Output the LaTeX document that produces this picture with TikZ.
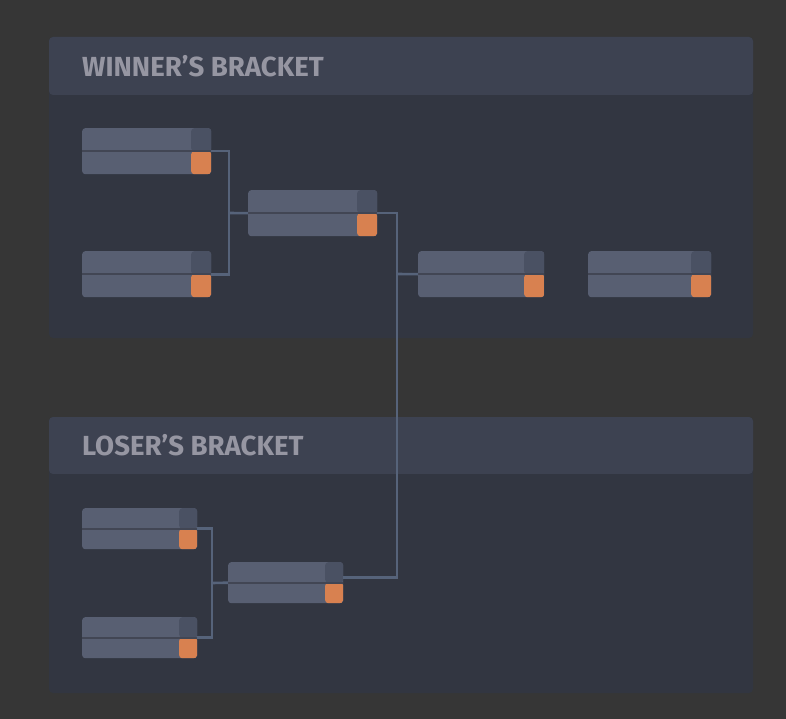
\documentclass[tikz,border=0pt]{standalone}
\usepackage{fontspec}
\setmainfont{Fira Sans}
\usetikzlibrary{positioning,calc}
\definecolor{bgpage}{RGB}{54,54,54}
\definecolor{panelhead}{RGB}{61,66,81}
\definecolor{panelbody}{RGB}{50,54,65}
\definecolor{headtext}{RGB}{150,150,162}
\definecolor{slot}{RGB}{88,95,114}
\definecolor{seeddark}{RGB}{74,81,99}
\definecolor{divider}{RGB}{66,70,84}
\definecolor{seedwin}{RGB}{216,129,80}
\definecolor{wirecol}{RGB}{86,99,122}

\begin{document}
\begin{tikzpicture}[x=1pt, y=-1pt,
  p/.style={fill=panelbody, rounded corners=4pt},
  ph/.style={fill=panelhead, rounded corners=4pt},
  t/.style={anchor=west, inner sep=0, text=headtext, font=\fontsize{27.6}{32}\selectfont\bfseries},
  m/.style={anchor=north west, inner sep=0, fill=slot, rounded corners=3pt,
    path picture={
      \fill[seeddark] ([xshift=-#1]path picture bounding box.north east) rectangle (path picture bounding box.east);
      \fill[seedwin] ([xshift=-#1]path picture bounding box.east) rectangle (path picture bounding box.south east);
      \draw[divider, line width=2pt] (path picture bounding box.west) -- (path picture bounding box.east);
    }},
  wm/.style={m=20pt, minimum height=46pt},
  lm/.style={m=18pt, minimum height=41pt, minimum width=115pt},
  w/.style={draw=wirecol, line width=2.6pt}]
\fill[bgpage] (0,0) rectangle (786,719);
\useasboundingbox (0,0) rectangle (786,719);
% panels
\fill[p] (49,37) rectangle (753,338);
\fill[ph] (49,37) rectangle (753,95);
\fill[panelbody] (49,95) rectangle (753,110);
\node[t] (wt) at (82,66) {WINNER’S BRACKET};
\fill[p] (49,417) rectangle (753,693);
\fill[ph] (49,417) rectangle (753,474);
\fill[panelbody] (49,474) rectangle (753,490);
\node[t] (lt) at (82,445) {LOSER’S BRACKET};
% winner's matches
\node[wm, minimum width=129pt] (m1) at (82,128) {};
\node[wm, minimum width=129pt] (m2) at (82,251) {};
\node[wm, minimum width=129pt] (m3) at (248,190) {};
\node[wm, minimum width=126pt] (m4) at (418,251) {};
\node[wm, minimum width=123pt] (m5) at (588,251) {};
% loser's matches
\node[lm] (l1) at (82,508) {};
\node[lm] (l2) at (82,617) {};
\node[lm] (l3) at (228,562) {};
% wires
\coordinate (j1) at (229,213);
\coordinate (j2) at (397,274);
\coordinate (j3) at (212,583);
\draw[w] (m1.east) -| (j1) |- (m2.east);
\draw[w] (j1) -- (m3.west);
\draw[w] (m3.east) -| (j2) |- ([yshift=5pt]l3.east);
\draw[w] (j2) -- (m4.west);
\draw[w] (l1.east) -| (j3) |- (l2.east);
\draw[w] (j3) -- (l3.west);
\end{tikzpicture}
\end{document}
